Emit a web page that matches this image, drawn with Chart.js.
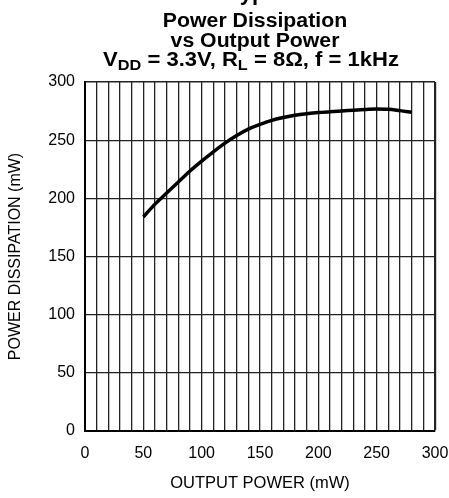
<!DOCTYPE html>
<html>
<head>
<meta charset="utf-8">
<script src="https://cdn.jsdelivr.net/npm/chart.js@4/dist/chart.umd.min.js"></script>
<style>
  html, body { margin: 0; padding: 0; background: #fff; overflow: hidden; }
  #wrap { position: relative; width: 449px; height: 498px; overflow: hidden; }
  canvas { position: absolute; left: 0; top: 0; }
  .t { position: absolute; font-family: "Liberation Sans", Arial, sans-serif; font-weight: bold;
       color: #000; white-space: nowrap; line-height: 20px; transform-origin: center; }
  .t sub { font-size: 0.74em; vertical-align: -0.28em; line-height: 0; }
</style>
</head>
<body>
<div id="wrap">
  <canvas id="c" width="449" height="498"></canvas>
  <div class="t" style="left:228px; top:-19px; font-size:22px; line-height:24px;">Typical Performance Characteristics</div>
  <div class="t" style="left:55px; width:400px; text-align:center; top:10px; font-size:19.5px; transform:scaleX(1.09);">Power Dissipation</div>
  <div class="t" style="left:55px; width:400px; text-align:center; top:30px; font-size:19.5px; transform:scaleX(1.09);">vs Output Power</div>
  <div class="t" style="left:51px; width:400px; text-align:center; top:49px; font-size:19.5px; transform:scaleX(1.13);">V<sub>DD</sub> = 3.3V, R<sub>L</sub> = 8Ω, f = 1kHz</div>
</div>
<script>
const outputPower = [50, 60, 70, 80, 90, 100, 110, 120, 130, 140, 150, 160, 170, 180, 190, 200, 210, 220, 230, 240, 250, 260, 270, 280];
const powerDissipation = [184, 195, 204.5, 214, 223.5, 232, 240, 247.5, 254, 259.5, 263.5, 267, 269.5, 271.5, 272.8, 273.7, 274.5, 275.1, 275.7, 276.3, 276.8, 276.6, 275.4, 274];
const xTickLabels = [0, 50, 100, 150, 200, 250, 300];
const yTickLabels = [0, 50, 100, 150, 200, 250, 300];

const points = outputPower.map((x, i) => ({ x: x, y: powerDissipation[i] }));
const font = { family: '"Liberation Sans", Arial, sans-serif', size: 16 };

new Chart(document.getElementById('c'), {
  type: 'line',
  data: {
    datasets: [{
      data: points,
      borderColor: '#000',
      borderWidth: 3.5,
      pointRadius: 0,
      tension: 0.4,
      cubicInterpolationMode: 'monotone',
      fill: false
    }]
  },
  options: {
    responsive: false,
    animation: false,
    events: [],
    layout: { padding: { top: 82, right: 14, left: 0, bottom: 0 } },
    plugins: { legend: { display: false }, tooltip: { enabled: false }, title: { display: false } },
    scales: {
      x: {
        type: 'linear',
        min: 0, max: 300,
        afterFit: s => { s.height = 67; s.paddingLeft = 0; s.paddingRight = 0; },
        ticks: {
          stepSize: 10, autoSkip: false, maxRotation: 0, padding: 13,
          color: '#000', font: font,
          callback: v => xTickLabels.includes(v) ? String(v) : ''
        },
        grid: {
          drawTicks: false,
          color: '#222',
          lineWidth: ctx => (ctx.tick && ctx.tick.value === 300) ? 2.2 : 1.3
        },
        border: { display: true, color: '#000', width: 2 },
        title: {
          display: true, text: 'OUTPUT POWER (mW)', color: '#000',
          font: { family: font.family, size: 16.5 }, padding: { top: 0, bottom: 5 }
        }
      },
      y: {
        type: 'linear',
        min: 0, max: 300,
        afterFit: s => { s.width = 85; s.paddingTop = 0; s.paddingBottom = 0; },
        ticks: {
          stepSize: 50, padding: 10, color: '#000', font: font,
          callback: v => yTickLabels.includes(v) ? String(v) : ''
        },
        grid: {
          drawTicks: false,
          color: '#222',
          lineWidth: ctx => (ctx.tick && ctx.tick.value === 300) ? 1.6 : 1.3
        },
        border: { display: true, color: '#000', width: 2 },
        title: {
          display: true, text: 'POWER DISSIPATION (mW)', color: '#000',
          font: { family: font.family, size: 16 }, padding: { top: 6, bottom: 0 }
        }
      }
    }
  }
});
</script>
</body>
</html>
